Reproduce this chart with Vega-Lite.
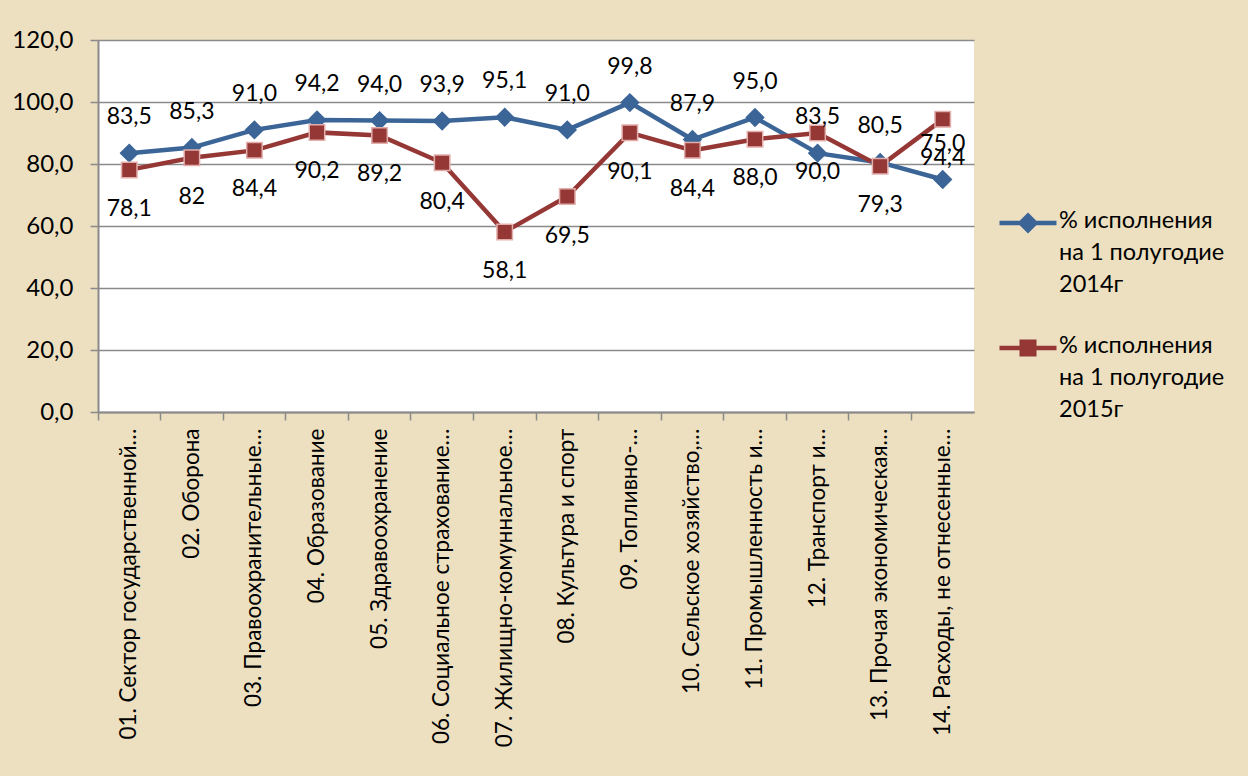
{
  "$schema": "https://vega.github.io/schema/vega-lite/v6.json",
  "width": 876,
  "height": 372,
  "autosize": {"type": "none"},
  "padding": {"left": 98, "top": 40, "right": 274, "bottom": 364},
  "background": "#EDE0C0",
  "config": {
    "view": {"fill": "white", "stroke": null},
    "font": "Lato",
    "axis": {"labelColor": "black", "domainColor": "#8A8A8A", "tickColor": "#8A8A8A", "gridColor": "#8A8A8A"}
  },
  "data": {
    "values": [
      {"cat": "01. Сектор государственной…", "s": "% исполнения|на 1 полугодие|2014г", "v": 83.5, "t": "83,5"},
      {"cat": "02. Оборона", "s": "% исполнения|на 1 полугодие|2014г", "v": 85.3, "t": "85,3"},
      {"cat": "03. Правоохранительные…", "s": "% исполнения|на 1 полугодие|2014г", "v": 91.0, "t": "91,0"},
      {"cat": "04. Образование", "s": "% исполнения|на 1 полугодие|2014г", "v": 94.2, "t": "94,2"},
      {"cat": "05. Здравоохранение", "s": "% исполнения|на 1 полугодие|2014г", "v": 94.0, "t": "94,0"},
      {"cat": "06. Социальное страхование…", "s": "% исполнения|на 1 полугодие|2014г", "v": 93.9, "t": "93,9"},
      {"cat": "07. Жилищно-комуннальное…", "s": "% исполнения|на 1 полугодие|2014г", "v": 95.1, "t": "95,1"},
      {"cat": "08. Культура и спорт", "s": "% исполнения|на 1 полугодие|2014г", "v": 91.0, "t": "91,0"},
      {"cat": "09. Топливно-…", "s": "% исполнения|на 1 полугодие|2014г", "v": 99.8, "t": "99,8"},
      {"cat": "10. Сельское хозяйство,…", "s": "% исполнения|на 1 полугодие|2014г", "v": 87.9, "t": "87,9"},
      {"cat": "11. Промышленность и…", "s": "% исполнения|на 1 полугодие|2014г", "v": 95.0, "t": "95,0"},
      {"cat": "12. Транспорт и…", "s": "% исполнения|на 1 полугодие|2014г", "v": 83.5, "t": "83,5"},
      {"cat": "13. Прочая экономическая…", "s": "% исполнения|на 1 полугодие|2014г", "v": 80.5, "t": "80,5"},
      {"cat": "14. Расходы, не отнесенные…", "s": "% исполнения|на 1 полугодие|2014г", "v": 75.0, "t": "75,0"},
      {"cat": "01. Сектор государственной…", "s": "% исполнения|на 1 полугодие|2015г", "v": 78.1, "t": "78,1"},
      {"cat": "02. Оборона", "s": "% исполнения|на 1 полугодие|2015г", "v": 82, "t": "82"},
      {"cat": "03. Правоохранительные…", "s": "% исполнения|на 1 полугодие|2015г", "v": 84.4, "t": "84,4"},
      {"cat": "04. Образование", "s": "% исполнения|на 1 полугодие|2015г", "v": 90.2, "t": "90,2"},
      {"cat": "05. Здравоохранение", "s": "% исполнения|на 1 полугодие|2015г", "v": 89.2, "t": "89,2"},
      {"cat": "06. Социальное страхование…", "s": "% исполнения|на 1 полугодие|2015г", "v": 80.4, "t": "80,4"},
      {"cat": "07. Жилищно-комуннальное…", "s": "% исполнения|на 1 полугодие|2015г", "v": 58.1, "t": "58,1"},
      {"cat": "08. Культура и спорт", "s": "% исполнения|на 1 полугодие|2015г", "v": 69.5, "t": "69,5"},
      {"cat": "09. Топливно-…", "s": "% исполнения|на 1 полугодие|2015г", "v": 90.1, "t": "90,1"},
      {"cat": "10. Сельское хозяйство,…", "s": "% исполнения|на 1 полугодие|2015г", "v": 84.4, "t": "84,4"},
      {"cat": "11. Промышленность и…", "s": "% исполнения|на 1 полугодие|2015г", "v": 88.0, "t": "88,0"},
      {"cat": "12. Транспорт и…", "s": "% исполнения|на 1 полугодие|2015г", "v": 90.0, "t": "90,0"},
      {"cat": "13. Прочая экономическая…", "s": "% исполнения|на 1 полугодие|2015г", "v": 79.3, "t": "79,3"},
      {"cat": "14. Расходы, не отнесенные…", "s": "% исполнения|на 1 полугодие|2015г", "v": 94.4, "t": "94,4"}
    ]
  },
  "encoding": {
    "x": {
      "field": "cat", "type": "nominal", "sort": null,
      "scale": {"type": "band", "paddingInner": 0, "paddingOuter": 0},
      "axis": {
        "title": null, "bandPosition": 0, "labelOffset": 0, "labelAngle": -90,
        "labelAlign": "right", "labelBaseline": "middle",
        "labelFontSize": 22.5, "labelPadding": 8, "labelLimit": 400,
        "tickSize": 8, "tickWidth": 1.5, "domainWidth": 2, "grid": false
      }
    },
    "y": {
      "field": "v", "type": "quantitative",
      "scale": {"domain": [0, 120], "nice": false},
      "axis": {
        "title": null, "values": [0, 20, 40, 60, 80, 100, 120],
        "labelExpr": "replace(format(datum.value, '.1f'), '.', ',')",
        "labelFontSize": 24, "labelPadding": 17, "tickSize": 8, "tickWidth": 1.5,
        "domainWidth": 2, "gridWidth": 1.5
      }
    },
    "color": {
      "field": "s", "type": "nominal",
      "scale": {"range": ["#3B6597", "#953735"]},
      "legend": {
        "orient": "none", "legendX": 899, "legendY": 152, "title": null,
        "symbolSize": 3249, "symbolStrokeWidth": 4.5, "labelFontSize": 23.5,
        "labelLimit": 400, "labelOffset": 0, "rowPadding": 20,
        "labelExpr": "split(datum.label, '|')", "labelBaseline": "top",
        "encode": {
          "symbols": {"update": {
            "shape": {"signal": "datum.index == 0 ? 'M-1,0H1M0,-0.26L0.26,0L0,0.26L-0.26,0Z' : 'M-1,0H1M-0.22,-0.22H0.22V0.22H-0.22Z'"},
            "fill": {"signal": "datum.index == 0 ? '#3B6597' : '#953735'"},
            "stroke": {"signal": "datum.index == 0 ? '#3B6597' : '#953735'"},
            "strokeWidth": {"value": 4.5}
          }},
          "labels": {"update": {"lineHeight": {"value": 32}, "dy": {"value": -14}}}
        }
      }
    }
  },
  "layer": [
    {"mark": {"type": "line", "strokeWidth": 4.5}},
    {
      "mark": {"type": "point", "filled": true, "opacity": 1, "strokeWidth": 1.5},
      "encoding": {
        "shape": {"field": "s", "type": "nominal", "scale": {"range": ["diamond", "square"]}, "legend": null},
        "size": {"field": "s", "type": "nominal", "scale": {"range": [300, 240]}, "legend": null},
        "stroke": {"field": "s", "type": "nominal", "scale": {"range": ["#3B6597", "#E3AFAD"]}, "legend": null}
      }
    },
    {
      "transform": [{"filter": "indexof(datum.s, '2014') >= 0"}],
      "mark": {"type": "text", "dy": -36, "fontSize": 23, "baseline": "middle", "align": "center"},
      "encoding": {"text": {"field": "t"}, "color": {"value": "black"}}
    },
    {
      "transform": [{"filter": "indexof(datum.s, '2015') >= 0"}],
      "mark": {"type": "text", "dy": 39, "fontSize": 23, "baseline": "middle", "align": "center"},
      "encoding": {"text": {"field": "t"}, "color": {"value": "black"}}
    }
  ]
}
